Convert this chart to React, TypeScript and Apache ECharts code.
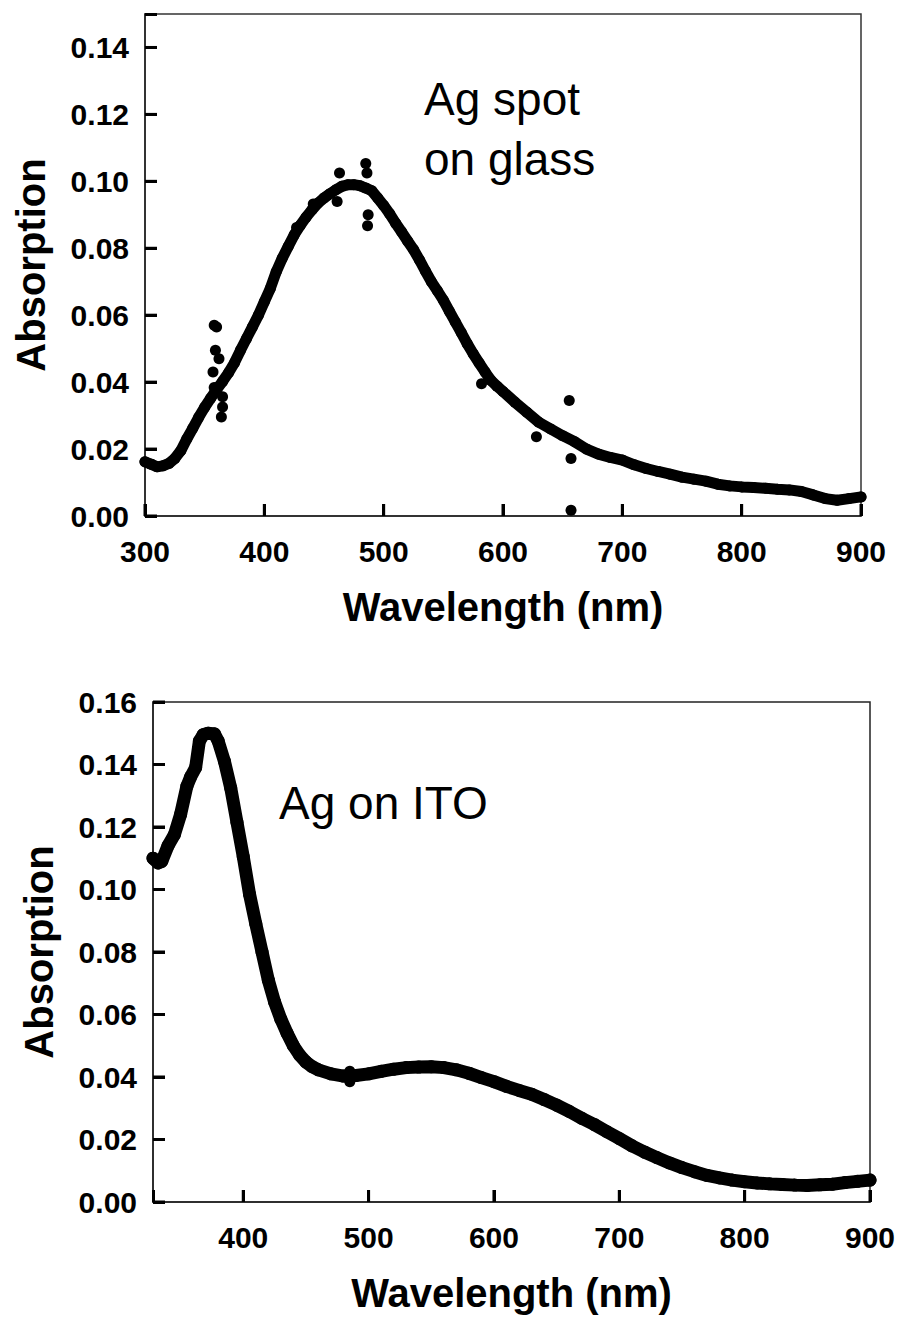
import React, { useEffect, useRef } from "react";
import * as echarts from "echarts";

// ---- Top panel: Ag spot on glass ----
const glassWavelength = [
  300, 305, 310, 315, 320, 325, 330, 335, 340, 345, 350, 355, 360, 365, 370, 375, 380, 385, 390, 395,
  400, 405, 410, 415, 420, 425, 430, 435, 440, 445, 450, 455, 460, 465, 470, 475, 480, 485, 490, 495,
  500, 505, 510, 515, 520, 525, 530, 535, 540, 545, 550, 555, 560, 565, 570, 575, 580, 585, 590, 595,
  600, 610, 620, 630, 640, 650, 660, 670, 680, 690, 700, 710, 720, 730, 740, 750, 760, 770, 780, 790,
  800, 810, 820, 830, 840, 850, 860, 870, 880, 890, 900,
];
const glassAbsorption = [
  0.0162, 0.0155, 0.0147, 0.015, 0.0157, 0.0172, 0.0195, 0.023, 0.0262, 0.0295, 0.0325, 0.0352, 0.0378, 0.0402, 0.0428, 0.0458, 0.0495, 0.053, 0.0565, 0.06,
  0.064, 0.068, 0.073, 0.077, 0.0805, 0.084, 0.0868, 0.0893, 0.0915, 0.0935, 0.095, 0.0963, 0.0975, 0.0985, 0.099, 0.099, 0.0987, 0.098, 0.0972, 0.095,
  0.0928, 0.0903, 0.0875, 0.0849, 0.0822, 0.0796, 0.0765, 0.0732, 0.07, 0.0673, 0.0645, 0.0612, 0.058, 0.0548, 0.0515, 0.0485, 0.0457, 0.043, 0.0405, 0.0388,
  0.0372, 0.034, 0.031, 0.028, 0.026, 0.024, 0.0222, 0.02, 0.0185, 0.0175, 0.0167, 0.0153, 0.0142, 0.0133, 0.0125, 0.0116, 0.011, 0.0104, 0.0095, 0.009,
  0.0087, 0.0085, 0.0083, 0.008, 0.0078, 0.0073, 0.0063, 0.0052, 0.0047, 0.0052, 0.0057,
];
const glassOutlierWavelength = [358, 360, 359, 362, 357, 358, 365, 365, 364, 427, 441, 461, 463, 485, 486, 487, 486.5, 582, 628, 655.5, 657, 657];
const glassOutlierAbsorption = [0.057, 0.0565, 0.0495, 0.047, 0.043, 0.0384, 0.0356, 0.0326, 0.0296, 0.0862, 0.0932, 0.094, 0.1025, 0.1053, 0.1025, 0.09, 0.0867, 0.0395, 0.0237, 0.0345, 0.0172, 0.0017];

// ---- Bottom panel: Ag on ITO ----
const itoWavelength = [
  328, 332, 335, 340, 345, 350, 355, 358, 362, 365, 368, 372, 377, 380, 385, 390, 395, 400, 405, 410,
  415, 420, 425, 430, 435, 440, 445, 450, 455, 460, 470, 480, 490, 500, 510, 520, 530, 540, 550, 560,
  570, 580, 590, 600, 610, 620, 630, 640, 650, 660, 670, 680, 690, 700, 710, 720, 730, 740, 750, 760,
  770, 780, 790, 800, 810, 820, 830, 840, 850, 860, 870, 880, 890, 900,
];
const itoAbsorption = [
  0.11, 0.1085, 0.109, 0.114, 0.1175, 0.124, 0.133, 0.136, 0.139, 0.1475, 0.1495, 0.15, 0.1498, 0.1475, 0.141, 0.1325, 0.1215, 0.1105, 0.0985, 0.089,
  0.08, 0.071, 0.064, 0.0585, 0.054, 0.05, 0.047, 0.0448, 0.0433, 0.0423, 0.041, 0.0403, 0.0405, 0.041, 0.0418, 0.0425, 0.043, 0.0432, 0.0433, 0.043,
  0.0423, 0.0412, 0.0398, 0.0385, 0.037, 0.0357, 0.0345, 0.0328, 0.031, 0.029, 0.0268, 0.0248, 0.0225, 0.0203, 0.018, 0.016, 0.0142, 0.0125, 0.011, 0.0097,
  0.0085, 0.0077, 0.007, 0.0065, 0.0061, 0.0058, 0.0056, 0.0054, 0.0053, 0.0055, 0.0057, 0.0062, 0.0066, 0.007,
];
const itoOutlierWavelength = [485, 485];
const itoOutlierAbsorption = [0.0418, 0.0385];

// ---- Tick labels ----
const topXTicks = [300, 400, 500, 600, 700, 800, 900];
const topYTicks = [0, 0.02, 0.04, 0.06, 0.08, 0.1, 0.12, 0.14];
const bottomXTicks = [400, 500, 600, 700, 800, 900];
const bottomYTicks = [0, 0.02, 0.04, 0.06, 0.08, 0.1, 0.12, 0.14, 0.16];

const topXRange = [300, 900];
const topYRange = [0, 0.15];
const bottomXRange = [328, 900];
const bottomYRange = [0, 0.16];

const FONT = "'Liberation Sans', Arial, Helvetica, sans-serif";
const TICK_LEN = 12;
const TICK_W = 3;

const zip = (xs: number[], ys: number[]) => xs.map((x, i) => [x, ys[i]]);

const nativeTick = { show: true, inside: true, length: TICK_LEN, lineStyle: { color: "#000", width: TICK_W } };

function makeXAxis(gridIndex: number, range: number[], ticks: number[], fixedInterval: boolean) {
  const ax: any = {
    type: "value",
    gridIndex,
    min: range[0],
    max: range[1],
    name: "Wavelength (nm)",
    nameLocation: "middle",
    nameGap: 71,
    nameTextStyle: { fontFamily: FONT, fontWeight: "bold", fontSize: 40, color: "#000" },
    axisLine: { show: true, lineStyle: { color: "#222", width: 1.5 } },
    axisTick: nativeTick,
    axisLabel: {
      customValues: ticks,
      margin: 20,
      fontFamily: FONT,
      fontWeight: "bold",
      fontSize: 30,
      color: "#000",
      formatter: (v: number) => String(Math.round(v)),
    },
    splitLine: { show: false },
  };
  if (fixedInterval) ax.interval = 100;
  else {
    ax.minInterval = 100;
    ax.maxInterval = 100;
  }
  return ax;
}

function makeYAxis(gridIndex: number, range: number[], ticks: number[]) {
  return {
    type: "value",
    gridIndex,
    min: range[0],
    max: range[1],
    interval: 0.02,
    name: "Absorption",
    nameLocation: "middle",
    nameRotate: 90,
    nameGap: 94,
    nameTextStyle: { fontFamily: FONT, fontWeight: "bold", fontSize: 40, color: "#000" },
    axisLine: { show: true, lineStyle: { color: "#222", width: 1.5 } },
    axisTick: nativeTick,
    axisLabel: {
      customValues: ticks,
      margin: 16,
      fontFamily: FONT,
      fontWeight: "bold",
      fontSize: 30,
      color: "#000",
      formatter: (v: number) => v.toFixed(2),
    },
    splitLine: { show: false },
  };
}

function curveSeries(xi: number, data: number[][], width: number) {
  return {
    type: "line",
    xAxisIndex: xi,
    yAxisIndex: xi,
    data,
    showSymbol: true,
    symbol: "circle",
    symbolSize: width,
    itemStyle: { color: "#000", opacity: 1 },
    lineStyle: { color: "#000", width, cap: "round", join: "round" },
    z: 3,
  };
}

function outlierSeries(xi: number, data: number[][], size: number) {
  return {
    type: "scatter",
    xAxisIndex: xi,
    yAxisIndex: xi,
    data,
    symbol: "circle",
    symbolSize: size,
    itemStyle: { color: "#000", opacity: 1 },
    z: 4,
  };
}

// Inward tick marks as a custom series, placed through the axes' own scales.
function xTickSeries(xi: number, ticks: number[], yMin: number) {
  return {
    type: "custom",
    xAxisIndex: xi,
    yAxisIndex: xi,
    data: ticks.map((v) => [v, yMin]),
    clip: false,
    renderItem: (_params: any, api: any) => {
      const p = api.coord([api.value(0), api.value(1)]);
      return {
        type: "line",
        shape: { x1: p[0], y1: p[1], x2: p[0], y2: p[1] - TICK_LEN },
        style: { stroke: "#000", lineWidth: TICK_W },
      };
    },
  };
}

function yTickSeries(xi: number, ticks: number[], xMin: number) {
  return {
    type: "custom",
    xAxisIndex: xi,
    yAxisIndex: xi,
    data: ticks.map((v) => [xMin, v]),
    clip: false,
    renderItem: (_params: any, api: any) => {
      const p = api.coord([api.value(0), api.value(1)]);
      return {
        type: "line",
        shape: { x1: p[0], y1: p[1], x2: p[0] + TICK_LEN, y2: p[1] },
        style: { stroke: "#000", lineWidth: TICK_W },
      };
    },
  };
}

export default function App() {
  const ref = useRef<HTMLDivElement>(null);

  useEffect(() => {
    if (!ref.current) return;
    const chart = echarts.init(ref.current, null, { renderer: "svg" });
    chart.setOption({
      animation: false,
      grid: [
        { left: 145, top: 14, width: 716, height: 502, show: true, borderColor: "#333", borderWidth: 1.5 },
        { left: 153, top: 702, width: 717, height: 500, show: true, borderColor: "#222", borderWidth: 1.5 },
      ],
      xAxis: [makeXAxis(0, topXRange, topXTicks, true), makeXAxis(1, bottomXRange, bottomXTicks, false)],
      yAxis: [makeYAxis(0, topYRange, topYTicks), makeYAxis(1, bottomYRange, bottomYTicks)],
      series: [
        curveSeries(0, zip(glassWavelength, glassAbsorption), 11),
        outlierSeries(0, zip(glassOutlierWavelength, glassOutlierAbsorption), 11),
        curveSeries(1, zip(itoWavelength, itoAbsorption), 13),
        outlierSeries(1, zip(itoOutlierWavelength, itoOutlierAbsorption), 11),
        xTickSeries(0, topXTicks, topYRange[0]),
        yTickSeries(0, topYTicks, topXRange[0]),
        xTickSeries(1, bottomXTicks, bottomYRange[0]),
        yTickSeries(1, bottomYTicks, bottomXRange[0]),
      ],
      graphic: [
        {
          type: "text",
          left: 424,
          top: 69,
          style: { text: "Ag spot\non glass", fontFamily: FONT, fontSize: 46, lineHeight: 60, fill: "#000" },
        },
        {
          type: "text",
          left: 279,
          top: 773,
          style: { text: "Ag on ITO", fontFamily: FONT, fontSize: 46, lineHeight: 60, fill: "#000" },
        },
      ],
    });
    return () => chart.dispose();
  }, []);

  return (
    <div
      ref={ref}
      style={{ position: "absolute", left: 0, top: 0, width: 900, height: 1321, background: "#fff" }}
    />
  );
}
